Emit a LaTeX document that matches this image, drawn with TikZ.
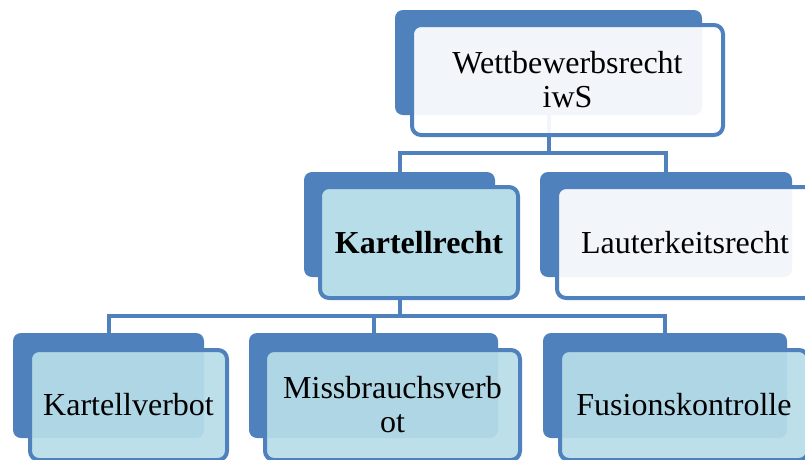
\documentclass[tikz,border=0pt]{standalone}
\usepackage{fontspec}
\setmainfont{Liberation Serif}
\definecolor{accblue}{HTML}{4F81BD}
\definecolor{lightblue}{HTML}{B7DDE8}
\begin{document}
\begin{tikzpicture}[x=1pt,y=-1pt,
  backbox/.style={fill=accblue, draw=none, rounded corners=8pt, inner sep=0pt},
  frontwhite/.style={fill=white, fill opacity=0.93, text opacity=1, draw=accblue, line width=4pt, rounded corners=9pt, inner sep=0pt, align=center, font=\fontsize{32}{34}\selectfont},
  frontlight/.style={frontwhite, fill=lightblue},
  frontsolid/.style={frontlight, fill opacity=1, font=\fontsize{32}{34}\selectfont\bfseries},
  conn/.style={draw=accblue, line width=4pt}
]
\useasboundingbox (0,0) rectangle (805,459);
\clip (0,0) rectangle (805,459);

% coordinates for connector joints
\coordinate (j1) at (548.5,153);
\coordinate (j2) at (399.5,316);

% back boxes
\node[backbox, minimum width=307, minimum height=105] (tb) at (548.5,62.5) {};
\node[backbox, minimum width=191, minimum height=105] (krb) at (399.5,224.5) {};
\node[backbox, minimum width=252, minimum height=105] (lkb) at (666,224.5) {};
\node[backbox, minimum width=191, minimum height=105] (kvb) at (108.5,385.5) {};
\node[backbox, minimum width=249, minimum height=105] (mvb) at (373.5,385.5) {};
\node[backbox, minimum width=244, minimum height=105] (fkb) at (665,385.5) {};

% connectors (behind front boxes)
\draw[conn] (tb.center) -- (j1);
\draw[conn] (krb.north) |- (j1) -| (lkb.north);
\draw[conn] (krb.center) -- (j2);
\draw[conn] (kvb.north) |- (j2) -| (fkb.north);
\draw[conn] (mvb.north) -- (mvb.north |- j2);

% front boxes
\node[frontwhite, minimum width=311, minimum height=110] (t) at (567.5,80) {Wettbewerbsrecht\\iwS};
\node[frontsolid, minimum width=198, minimum height=111] (kr) at (419,242.5) {Kartellrecht};
\node[frontwhite, minimum width=256, minimum height=111] (lk) at (685,242.5) {Lauterkeitsrecht};
\node[frontlight, minimum width=197, minimum height=110] (kv) at (128.5,405) {Kartellverbot};
\node[frontlight, minimum width=255, minimum height=110] (mv) at (392.5,405) {Missbrauchsverb\\ot};
\node[frontlight, minimum width=248, minimum height=110] (fk) at (684,405) {Fusionskontrolle};
\end{tikzpicture}
\end{document}
